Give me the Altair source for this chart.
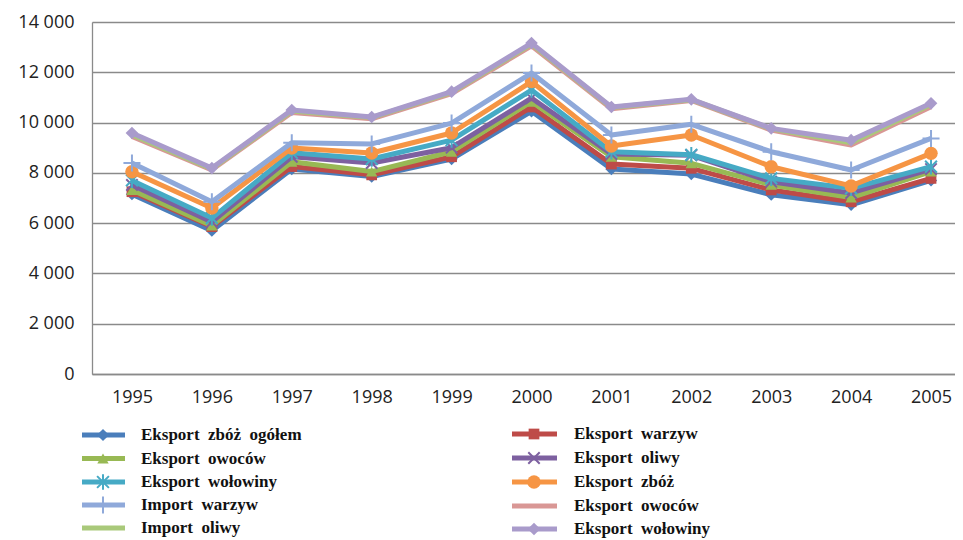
import altair as alt
import pandas as pd

years = list(range(1995, 2006))

series_names = [
    "Eksport zbóż ogółem", "Eksport warzyw", "Eksport owoców", "Eksport oliwy",
    "Eksport wołowiny", "Eksport zbóż", "Import warzyw", "Eksport owoców",
    "Import oliwy", "Eksport wołowiny",
]
eksport_zboz_ogolem = [7150, 5700, 8150, 7850, 8550, 10450, 8150, 7950, 7130, 6730, 7700]
eksport_warzyw = [7250, 5860, 8250, 7920, 8640, 10620, 8350, 8180, 7320, 6850, 7780]
eksport_owocow = [7320, 5900, 8440, 8050, 8840, 10830, 8640, 8380, 7520, 7020, 8050]
eksport_oliwy = [7520, 6050, 8640, 8390, 9000, 10975, 8750, 8700, 7650, 7200, 8150]
eksport_wolowiny = [7700, 6200, 8800, 8550, 9300, 11295, 8840, 8720, 7780, 7385, 8245]
eksport_zboz = [8045, 6600, 8990, 8790, 9585, 11630, 9070, 9505, 8245, 7480, 8775]
import_warzyw = [8390, 6850, 9200, 9150, 9980, 11970, 9505, 9930, 8840, 8115, 9370]
eksport_owocow_2 = [9450, 8120, 10400, 10150, 11150, 13050, 10550, 10880, 9700, 9110, 10630]
import_oliwy = [9520, 8160, 10460, 10200, 11200, 13120, 10600, 10910, 9750, 9200, 10720]
eksport_wolowiny_2 = [9585, 8190, 10500, 10220, 11230, 13160, 10620, 10925, 9770, 9300, 10765]

all_values = [eksport_zboz_ogolem, eksport_warzyw, eksport_owocow, eksport_oliwy,
              eksport_wolowiny, eksport_zboz, import_warzyw, eksport_owocow_2,
              import_oliwy, eksport_wolowiny_2]

colors = ["#4A7EBB", "#BE4B48", "#98B954", "#7D60A0", "#46AAC5", "#F69544",
          "#8FA9DA", "#D99795", "#A9C97A", "#A99BCB"]

X_PATH = "M-1,-1L1,1M-1,1L1,-1"
AST_PATH = "M-1,-1L1,1M-1,1L1,-1M0,-1.3L0,1.3"
PLUS_PATH = "M-1,0L1,0M0,-1L0,1"
# (shape, filled, size)
markers = [
    ("diamond", True, 150), ("square", True, 115), ("triangle-up", True, 130),
    (X_PATH, False, 130), (AST_PATH, False, 140), ("circle", True, 180),
    (PLUS_PATH, False, 290), (None, None, None), (None, None, None),
    ("diamond", True, 160),
]

xscale = alt.Scale(domain=[1994.5, 2005.3], nice=False, zero=False)
yscale = alt.Scale(domain=[0, 14000], nice=False)

xaxis = alt.Axis(values=years, format="d", grid=False, ticks=False,
                 domain=True, domainColor="#8a8a8a", domainWidth=1.3,
                 labelFont="Open Sans", labelFontSize=18,
                 labelColor="#222222", labelPadding=14, labelFlush=False, title=None)
yaxis = alt.Axis(values=list(range(0, 14001, 2000)), grid=True,
                 gridColor="#8a8a8a", gridWidth=1.3, ticks=False,
                 domain=True, domainColor="#8a8a8a", domainWidth=1.3,
                 labelFont="Open Sans", labelFontSize=18,
                 labelColor="#222222", labelPadding=18, title=None,
                 labelExpr="replace(format(datum.value, ','), ',', ' ')")


def enc_xy():
    return dict(x=alt.X("year:Q", scale=xscale, axis=xaxis),
                y=alt.Y("value:Q", scale=yscale, axis=yaxis))


LW = 5

layers = []
for i, (name, vals) in enumerate(zip(series_names, all_values)):
    df = pd.DataFrame({"year": years, "value": vals})
    base = alt.Chart(df)
    layers.append(base.mark_line(color=colors[i], strokeWidth=LW, strokeJoin="round")
                  .encode(**enc_xy()))
    shape, filled, size = markers[i]
    if shape is not None:
        if filled:
            pm = base.mark_point(shape=shape, filled=True, size=size, color=colors[i], opacity=1)
        else:
            pm = base.mark_point(shape=shape, filled=False, size=size, color=colors[i],
                                 strokeWidth=2, opacity=1)
        layers.append(pm.encode(**enc_xy()))

# Legend (two columns, column-major order as in the reference)
legend_order = [0, 2, 4, 6, 8, 1, 3, 5, 7, 9]
left_rows = [413, 436.5, 460, 483, 506]
right_rows = [412, 436, 460, 484, 507]
for pos, idx in enumerate(legend_order):
    col = pos // 5
    row = pos % 5
    if col == 0:
        x0, x1, xm, xt, y = -10, 33, 11, 49, left_rows[row]
    else:
        x0, x1, xm, xt, y = 420, 465, 442, 482, right_rows[row]
    ldf = pd.DataFrame({"label": [series_names[idx].replace(" ", "\u00a0 ")]})
    lb = alt.Chart(ldf)
    layers.append(lb.mark_rule(color=colors[idx], strokeWidth=LW)
                  .encode(x=alt.value(x0), x2=alt.value(x1), y=alt.value(y)))
    shape, filled, size = markers[idx]
    if shape is not None:
        if filled:
            m = lb.mark_point(shape=shape, filled=True, size=size, color=colors[idx], opacity=1)
        else:
            m = lb.mark_point(shape=shape, filled=False, size=size, color=colors[idx],
                              strokeWidth=2, opacity=1)
        layers.append(m.encode(x=alt.value(xm), y=alt.value(y)))
    layers.append(lb.mark_text(align="left", baseline="middle", font="Liberation Serif",
                               fontWeight="bold", fontSize=17, color="#111111")
                  .encode(x=alt.value(xt), y=alt.value(y), text="label:N"))

chart = alt.layer(*layers).properties(
    width=863, height=352,
    autosize=alt.AutoSizeParams(type="none"),
    padding={"left": 84, "top": 14, "right": 0, "bottom": 164},
).configure_view(stroke=None).configure(background="white")

chart.save("out.html", embed_options={"renderer": "svg", "actions": False})
